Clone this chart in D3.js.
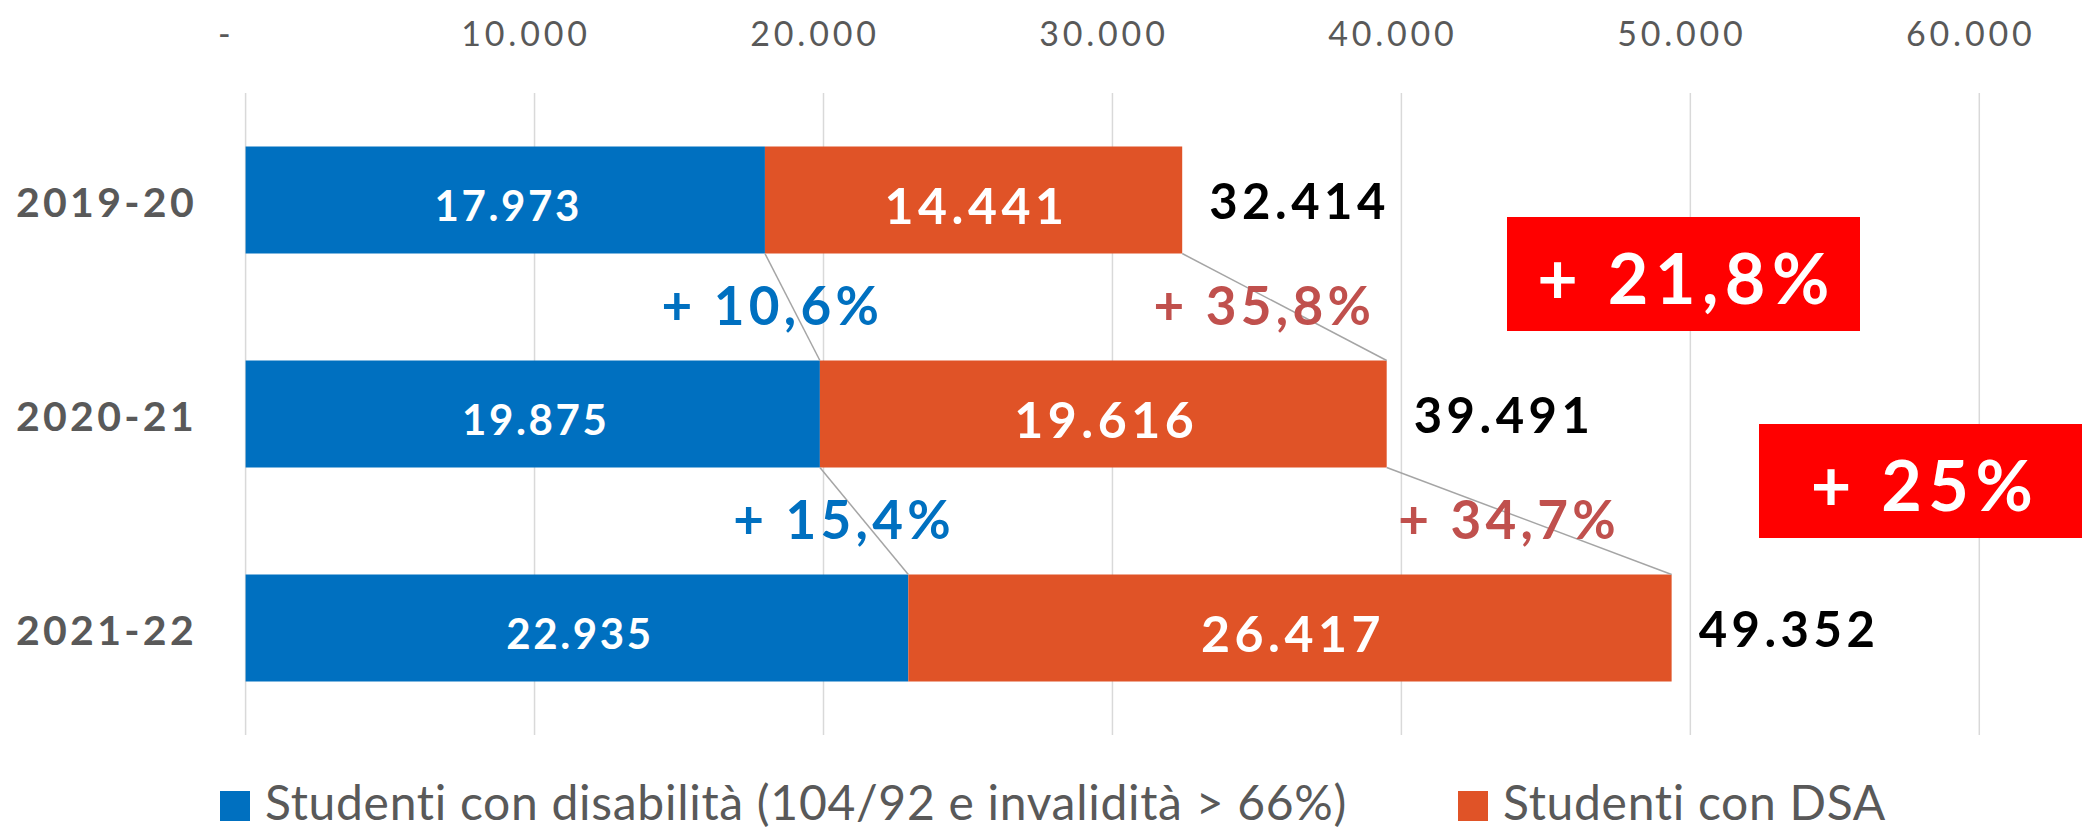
<!DOCTYPE html>
<html><head><meta charset="utf-8">
<script src="https://cdn.jsdelivr.net/npm/d3@7"></script>
<style>html,body{margin:0;padding:0;background:#fff;overflow:hidden}svg{display:block}</style>
</head><body><svg id="c" width="2082" height="831"></svg>
<script>
// ---- data ----
const categories = ["2019-20", "2020-21", "2021-22"];
const disabilita = [17973, 19875, 22935];
const dsa = [14441, 19616, 26417];
const totals = [32414, 39491, 49352];
const tickValues = [0, 10000, 20000, 30000, 40000, 50000, 60000];
const seriesNames = ["Studenti con disabilità (104/92 e invalidità > 66%)", "Studenti con DSA"];

// ---- style / layout ----
const W = 2082, H = 831;
const colBlue = "#0070C0", colOrange = "#E05327", colRedTxt = "#C0504D", colBox = "#FF0000";
const FONT = "Lato, 'Open Sans', sans-serif";
const plot = {left: 245.6, right: 1979.3, top: 93, bottom: 735};
const boxLayout = [{x: 1507, y: 217, w: 353}, {x: 1759, y: 424, w: 326}], boxH = 114;

const it = d3.formatLocale({decimal: ",", thousands: ".", grouping: [3], currency: ["€", ""]});
const fmtInt = it.format(",d");
const fmtPct = v => "+ " + it.format(".1f")(v * 100).replace(/,0$/, "") + "%";

const svg = d3.select("#c");
svg.append("rect").attr("width", W).attr("height", H).attr("fill", "#fff");

const x = d3.scaleLinear().domain([0, 60000]).range([plot.left, plot.right]);
const y = d3.scaleBand().domain(categories).range([plot.top, plot.bottom]).paddingInner(0.5).paddingOuter(0.25);
const bw = y.bandwidth();

// top axis labels via d3 axis
const axis = d3.axisTop(x).tickValues(tickValues).tickSize(0)
  .tickFormat(v => v === 0 ? "-" : fmtInt(v));
const gAxis = svg.append("g").attr("transform", "translate(0,46)").call(axis);
gAxis.select(".domain").remove();
gAxis.selectAll("text")
  .attr("font-family", FONT).attr("font-size", 34).attr("letter-spacing", 3.8)
  .attr("fill", "#595959").attr("y", 0).attr("dy", 0)
  .attr("dx", d => d === 0 ? -20 : -9);

// gridlines
svg.append("g").selectAll("line").data(tickValues).join("line")
  .attr("x1", d => x(d)).attr("x2", d => x(d))
  .attr("y1", plot.top).attr("y2", plot.bottom)
  .attr("stroke", "#D9D9D9").attr("stroke-width", 1.5);

// category labels
svg.append("g").selectAll("text").data(categories).join("text")
  .attr("x", 197).attr("y", d => y(d) + bw / 2 + 17)
  .attr("text-anchor", "end")
  .attr("font-family", FONT).attr("font-weight", 700).attr("font-size", 41).attr("letter-spacing", 3.3)
  .attr("fill", "#595959").text(d => d);

// bars
const rows = categories.map((c, i) => ({c, a: disabilita[i], b: dsa[i], t: totals[i]}));
svg.append("g").selectAll("rect").data(rows).join("rect")
  .attr("x", x(0)).attr("y", d => y(d.c)).attr("width", d => x(d.a) - x(0)).attr("height", bw)
  .attr("fill", colBlue);
svg.append("g").selectAll("rect").data(rows).join("rect")
  .attr("x", d => x(d.a)).attr("y", d => y(d.c)).attr("width", d => x(d.a + d.b) - x(d.a)).attr("height", bw)
  .attr("fill", colOrange);

// series lines (connectors)
const conn = [];
for (let i = 0; i < rows.length - 1; i++) {
  conn.push({x1: x(rows[i].a), y1: y(rows[i].c) + bw, x2: x(rows[i + 1].a), y2: y(rows[i + 1].c),
    g: rows[i + 1].a / rows[i].a - 1, col: colBlue});
  conn.push({x1: x(rows[i].a + rows[i].b), y1: y(rows[i].c) + bw, x2: x(rows[i + 1].a + rows[i + 1].b), y2: y(rows[i + 1].c),
    g: rows[i + 1].b / rows[i].b - 1, col: colRedTxt});
}
svg.append("g").selectAll("line").data(conn).join("line")
  .attr("x1", d => d.x1).attr("y1", d => d.y1).attr("x2", d => d.x2).attr("y2", d => d.y2)
  .attr("stroke", "#A5A5A5").attr("stroke-width", 1.5);

// segment labels
svg.append("g").selectAll("text").data(rows).join("text")
  .attr("x", d => (x(0) + x(d.a)) / 2 + 3).attr("y", d => y(d.c) + bw / 2 + 21)
  .attr("text-anchor", "middle").attr("font-family", FONT).attr("font-weight", 700)
  .attr("font-size", 42).attr("letter-spacing", 2.6).attr("fill", "#fff")
  .text(d => fmtInt(d.a));
svg.append("g").selectAll("text").data(rows).join("text")
  .attr("x", d => (x(d.a) + x(d.a + d.b)) / 2 + 3).attr("y", d => y(d.c) + bw / 2 + 24)
  .attr("text-anchor", "middle").attr("font-family", FONT).attr("font-weight", 700)
  .attr("font-size", 50).attr("letter-spacing", 4.5).attr("fill", "#fff")
  .text(d => fmtInt(d.b));

// totals
svg.append("g").selectAll("text").data(rows).join("text")
  .attr("x", d => x(d.t) + 27).attr("y", d => y(d.c) + bw / 2 + 19)
  .attr("font-family", FONT).attr("font-weight", 700)
  .attr("font-size", 49).attr("letter-spacing", 4.5).attr("fill", "#000")
  .text(d => fmtInt(d.t));

// growth labels on connectors
svg.append("g").selectAll("text").data(conn).join("text")
  .attr("x", d => (d.x1 + d.x2) / 2 - 20).attr("y", d => (d.y1 + d.y2) / 2 + 18)
  .attr("text-anchor", "middle").attr("font-family", FONT).attr("font-weight", 700)
  .attr("font-size", 53).attr("letter-spacing", 4.3).attr("fill", d => d.col)
  .text(d => fmtPct(d.g));

// total growth boxes
const tg = [];
for (let i = 0; i < totals.length - 1; i++) tg.push({g: totals[i + 1] / totals[i] - 1, ...boxLayout[i]});
const gb = svg.append("g").selectAll("g").data(tg).join("g");
gb.append("rect").attr("x", d => d.x).attr("y", d => d.y).attr("width", d => d.w).attr("height", boxH).attr("fill", colBox);
gb.append("text").attr("x", d => d.x + d.w / 2 + 3).attr("y", d => d.y + boxH / 2 + 30)
  .attr("text-anchor", "middle").attr("font-family", FONT).attr("font-weight", 700)
  .attr("font-size", 70).attr("letter-spacing", 6.5).attr("fill", "#fff")
  .text(d => fmtPct(d.g));

// legend
const legend = [{name: seriesNames[0], col: colBlue, x: 220}, {name: seriesNames[1], col: colOrange, x: 1458}];
const lg = svg.append("g").selectAll("g").data(legend).join("g");
lg.append("rect").attr("x", d => d.x).attr("y", 791).attr("width", 30).attr("height", 30).attr("fill", d => d.col);
lg.append("text").attr("x", d => d.x + 45).attr("y", 820)
  .attr("font-family", FONT).attr("font-size", 48).attr("letter-spacing", 0.7).attr("fill", "#595959")
  .text(d => d.name);
</script></body></html>
